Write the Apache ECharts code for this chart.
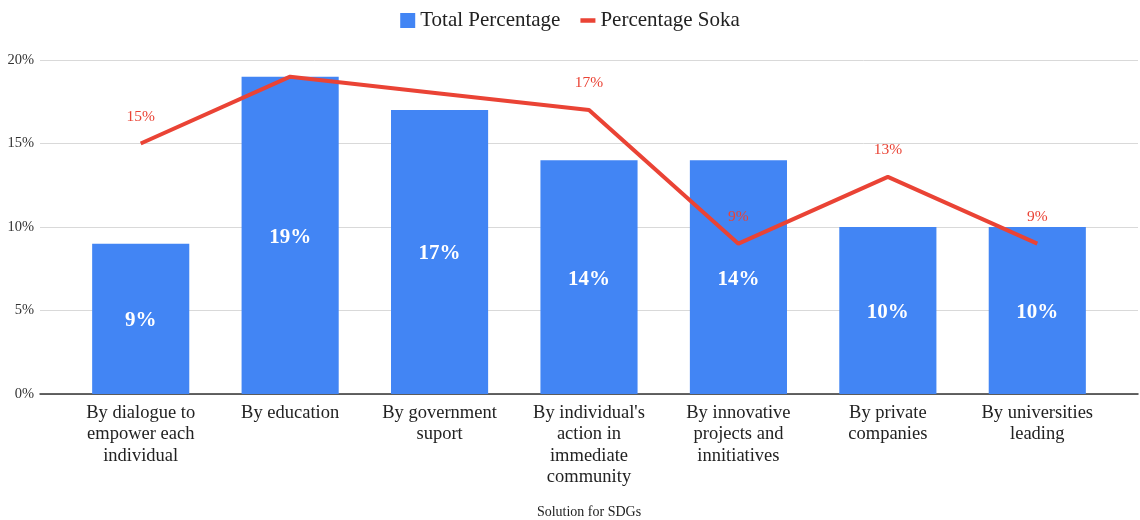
<!DOCTYPE html>
<html>
<head>
<meta charset="utf-8">
<script src="https://cdn.jsdelivr.net/npm/echarts@6/dist/echarts.min.js"></script>
<style>
  html, body { margin: 0; padding: 0; background: #fff; }
  #chart { width: 1140px; height: 520px; }
</style>
</head>
<body>
<div id="chart"></div>
<script>
    var categories = ['By dialogue to empower each individual', 'By education', 'By government suport',
        "By individual's action in immediate community", 'By innovative projects and innitiatives',
        'By private companies', 'By universities leading'];
    var tickLabels = ['By dialogue to\nempower each\nindividual', 'By education', 'By government\nsuport',
        "By individual's\naction in\nimmediate\ncommunity", 'By innovative\nprojects and\ninnitiatives',
        'By private\ncompanies', 'By universities\nleading'];
    var totalPercentage = [9, 19, 17, 14, 14, 10, 10];
    var percentageSoka = [15, 19, 18, 17, 9, 13, 9];
    var sokaLabelShown = [true, false, false, true, true, true, true];
    var yTicks = [0, 5, 10, 15, 20];

    var font = '"Liberation Serif", "DejaVu Serif", serif';
    var myChart = echarts.init(document.getElementById('chart'));

    var option = {
        backgroundColor: '#fff',
        textStyle: { fontFamily: font },
        legend: {
            top: 5,
            left: 'center',
            itemGap: 20,
            itemWidth: 15,
            itemHeight: 15,
            textStyle: { fontFamily: font, fontSize: 21, color: '#222' },
            data: [
                { name: 'Total Percentage', icon: 'rect' },
                { name: 'Percentage Soka', icon: 'path://M0,0 L10,0 L10,3 L0,3 Z' }
            ]
        },
        grid: [
            { left: 40, right: 2, top: 60, bottom: 126, outerBoundsMode: 'none' },
            { left: 66, right: 28, top: 60, bottom: 126, outerBoundsMode: 'none' }
        ],
        xAxis: [{
                gridIndex: 0,
                type: 'category',
                data: [''],
                axisLine: { show: true, lineStyle: { color: '#333', width: 1.5 } },
                axisTick: { show: false },
                axisLabel: { show: false },
                name: 'Solution for SDGs',
                nameLocation: 'middle',
                nameGap: 111,
                nameTextStyle: { fontFamily: font, fontSize: 14, color: '#222' }
            },
            {
                gridIndex: 1,
                type: 'category',
                data: categories,
                axisLine: { show: false },
                axisTick: { show: false },
                axisLabel: {
                    margin: 8,
                    fontFamily: font,
                    fontSize: 18.5,
                    lineHeight: 21.5,
                    color: '#222',
                    interval: 0,
                    verticalAlign: 'top',
                    formatter: function(v, i) { return tickLabels[i]; }
                }
            }
        ],
        yAxis: [{
                gridIndex: 0,
                type: 'value',
                min: yTicks[0],
                max: yTicks[yTicks.length - 1],
                interval: 5,
                axisLine: { show: false },
                axisTick: { show: false },
                axisLabel: {
                    margin: 6,
                    fontFamily: font,
                    fontSize: 14.5,
                    color: '#333',
                    formatter: '{value}%'
                },
                splitLine: { lineStyle: { color: '#d9d9d9', width: 1 } }
            },
            {
                gridIndex: 1,
                type: 'value',
                min: yTicks[0],
                max: yTicks[yTicks.length - 1],
                interval: 5,
                show: false,
                splitLine: { show: false }
            }
        ],
        series: [{
                name: 'Total Percentage',
                type: 'bar',
                xAxisIndex: 1,
                yAxisIndex: 1,
                barWidth: '65%',
                itemStyle: { color: '#4285f4' },
                label: {
                    show: true,
                    position: 'inside',
                    offset: [0, 2],
                    color: '#fff',
                    fontFamily: font,
                    fontWeight: 'bold',
                    fontSize: 21,
                    formatter: '{c}%'
                },
                data: totalPercentage
            },
            {
                name: 'Percentage Soka',
                type: 'line',
                xAxisIndex: 1,
                yAxisIndex: 1,
                symbol: 'circle',
                symbolSize: 0,
                showSymbol: true,
                z: 5,
                itemStyle: { color: '#ea4335' },
                lineStyle: { color: '#ea4335', width: 4 },
                label: {
                    show: true,
                    position: 'top',
                    distance: 19,
                    color: '#ea4335',
                    fontFamily: font,
                    fontSize: 15.5,
                    formatter: '{c}%'
                },
                labelLayout: { hideOverlap: false },
                data: percentageSoka.map(function(v, i) {
                    return { value: v, label: { show: sokaLabelShown[i] } };
                })
            }
        ]
    };

    myChart.setOption(option);
</script>
</body>
</html>
